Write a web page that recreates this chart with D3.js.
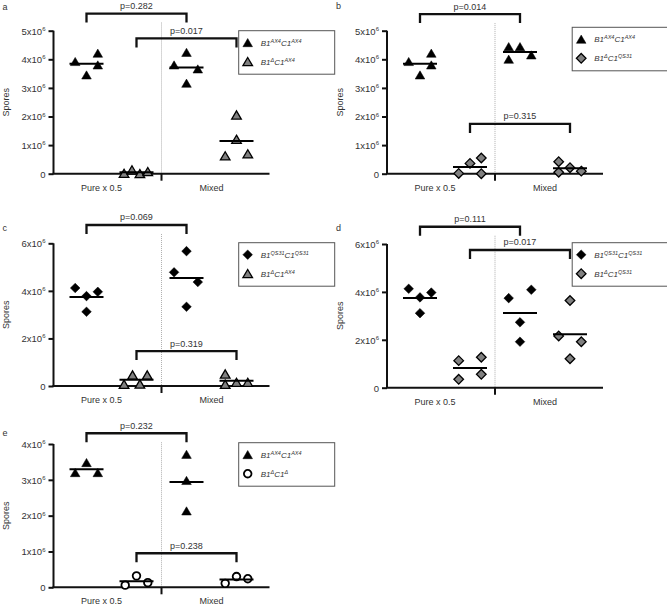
<!DOCTYPE html>
<html>
<head>
<meta charset="utf-8">
<script src="https://cdn.jsdelivr.net/npm/d3@7"></script>
<style>
  body { margin: 0; background: #fff; }
  svg { display: block; font-family: "Liberation Sans", Arial, sans-serif; }
</style>
</head>
<body>
<svg id="chart" width="667" height="607"></svg>
<script>
// groups on the x axis
const categories = ["Pure x 0.5", "Mixed"];

// values are spores in units of 10^6, series order: [dom pure, delta pure, dom mixed, delta mixed]
const aValues = [[3.92, 3.45, 4.21, 3.80], [0.01, 0.13, 0.00, 0.07], [3.80, 4.24, 3.16, 3.66], [0.62, 2.05, 1.20, 0.69]];
const aSlots  = [[-1, 0, 1, 1], [-1.1, -0.4, 0.3, 1], [-1.1, 0, 0, 1], [-1, 0, 0, 1]];
const aLegend = [["B1", "AX4", "C1", "AX4"], ["B1", "Δ", "C1", "AX4"]];
const aPvalues = ["p=0.282", "p=0.017"];
const aBracketAt = [5.6, 4.73];
const aTicks = [0, 1, 2, 3, 4, 5];

const bValues = [[3.92, 3.45, 4.21, 3.80], [0.01, 0.36, 0.00, 0.55], [4.44, 4.00, 4.44, 4.15], [0.42, 0.05, 0.21, 0.09]];
const bSlots  = [[-1, 0, 1, 1], [-1, 0, 1, 1], [-1, -1, 0, 1], [-1, -1, 0, 1]];
const bLegend = [["B1", "AX4", "C1", "AX4"], ["B1", "Δ", "C1", "QS31"]];
const bPvalues = ["p=0.014", "p=0.315"];
const bBracketAt = [5.58, 1.74];
const bTicks = [0, 1, 2, 3, 4, 5];

const cValues = [[4.12, 3.78, 3.12, 3.96], [0.07, 0.46, 0.08, 0.46], [4.78, 5.67, 3.33, 4.37], [0.50, 0.07, 0.15, 0.15]];
const cSlots  = [[-1, 0, 0, 1], [-1.1, -0.35, 0.3, 0.95], [-1.1, 0, 0, 1], [-1, -1, 0, 1]];
const cLegend = [["B1", "QS31", "C1", "QS31"], ["B1", "Δ", "C1", "AX4"]];
const cPvalues = ["p=0.069", "p=0.319"];
const cBracketAt = [6.77, 1.47];
const cTicks = [0, 2, 4, 6];

const dValues = [[4.13, 3.77, 3.11, 3.97], [1.13, 0.35, 1.27, 0.56], [3.74, 2.73, 1.92, 4.09], [2.16, 3.64, 1.21, 1.92]];
const dSlots  = [[-1, 0, 0, 1], [-1, -1, 1, 1], [-1, 0, 0, 1], [-1, 0, 0, 1]];
const dLegend = [["B1", "QS31", "C1", "QS31"], ["B1", "Δ", "C1", "QS31"]];
const dPvalues = ["p=0.111", "p=0.017"];
const dBracketAt = [6.72, 5.75];
const dTicks = [0, 2, 4, 6];

const eValues = [[3.20, 3.48, 3.20], [0.06, 0.32, 0.13], [3.71, 2.98, 2.13], [0.11, 0.30, 0.24]];
const eSlots  = [[-1, 0, 1], [-1, 0, 1], [0, 0, 0], [-1, 0, 1]];
const eLegend = [["B1", "AX4", "C1", "AX4"], ["B1", "Δ", "C1", "Δ"]];
const ePvalues = ["p=0.232", "p=0.238"];
const eBracketAt = [4.30, 0.95];
const eTicks = [0, 1, 2, 3, 4];

const svg = d3.select("#chart");

const panels = [
  { letter: "a", values: aValues, slots: aSlots, legend: aLegend, pvals: aPvalues, bracketAt: aBracketAt, ticks: aTicks,
    marks: ["tri", "triGray"], left: 53.5, y0: 173.7, yTop: 30.7, letterY: 10, legendDy: 0 },
  { letter: "b", values: bValues, slots: bSlots, legend: bLegend, pvals: bPvalues, bracketAt: bBracketAt, ticks: bTicks,
    marks: ["tri", "diaGray"], left: 387, y0: 173.7, yTop: 30.7, letterY: 9, legendDy: -3.4 },
  { letter: "c", values: cValues, slots: cSlots, legend: cLegend, pvals: cPvalues, bracketAt: cBracketAt, ticks: cTicks,
    marks: ["dia", "triGray"], left: 53.5, y0: 386, yTop: 243.3, letterY: 231, legendDy: -0.6 },
  { letter: "d", values: dValues, slots: dSlots, legend: dLegend, pvals: dPvalues, bracketAt: dBracketAt, ticks: dTicks,
    marks: ["dia", "diaGray"], left: 387, y0: 387.7, yTop: 244, letterY: 230.5, legendDy: -1.3 },
  { letter: "e", values: eValues, slots: eSlots, legend: eLegend, pvals: ePvalues, bracketAt: eBracketAt, ticks: eTicks,
    marks: ["tri", "circle"], left: 53.5, y0: 587.3, yTop: 444, letterY: 436, legendDy: -1.3 }
];

// marker drawing
function drawMark(sel, kind) {
  if (kind === "circle") {
    return sel.append("circle").attr("r", 3.8).attr("fill", "#fff").attr("stroke", "#000").attr("stroke-width", 1.8);
  }
  const gray = kind.endsWith("Gray");
  const d = kind.startsWith("tri") ? "M0,-4.2L4.8,4L-4.8,4Z" : "M0,-4.8L4.8,0L0,4.8L-4.8,0Z";
  return sel.append("path").attr("d", d)
    .attr("fill", gray ? "#808080" : "#000")
    .attr("stroke", "#000")
    .attr("stroke-width", gray ? 1.3 : 0.5);
}

function drawPanel(p) {
  const g = svg.append("g");
  const width = 216;
  const x = d3.scalePoint().domain([0, 1, 2, 3]).range([p.left, p.left + width]).padding(0.66);
  const ymax = p.ticks[p.ticks.length - 1];
  const y = d3.scaleLinear().domain([0, ymax]).range([p.y0, p.yTop]);
  const jitter = d3.scaleLinear().domain([-1, 1]).range([-11.3, 11.3]);
  const mid = (x(1) + x(2)) / 2;

  // panel letter
  g.append("text").attr("x", p.left - 51).attr("y", p.letterY)
    .attr("font-size", 9).attr("fill", "#333").text(p.letter);

  // dotted divider
  const topBr = y(p.bracketAt[0]);
  g.append("line").attr("x1", mid).attr("x2", mid).attr("y1", topBr + 9).attr("y2", p.y0)
    .attr("stroke", "#9a9a9a").attr("stroke-width", 0.8).attr("stroke-dasharray", "1,1");

  // y axis
  const yAxis = g.append("g").attr("transform", `translate(${p.left},0)`)
    .call(d3.axisLeft(y).tickValues(p.ticks).tickSize(5).tickFormat(""));
  yAxis.select(".domain").attr("stroke", "#111").attr("stroke-width", 2).attr("d", `M0,${p.y0}V${p.yTop}`);
  yAxis.selectAll(".tick line").attr("stroke", "#111").attr("stroke-width", 2);
  yAxis.selectAll(".tick").each(function(v) {
    const t = d3.select(this).append("text").attr("x", -8).attr("dy", "0.35em")
      .attr("text-anchor", "end").attr("font-size", 9.5).attr("fill", "#333");
    if (v === 0) { t.text("0"); return; }
    t.append("tspan").text(v + "x10");
    t.append("tspan").attr("dy", -3.8).attr("font-size", 6).text("6");
  });

  // x axis line with middle tick
  g.append("line").attr("x1", p.left - 1).attr("x2", p.left + width).attr("y1", p.y0).attr("y2", p.y0)
    .attr("stroke", "#111").attr("stroke-width", 2);
  g.append("line").attr("x1", mid).attr("x2", mid).attr("y1", p.y0).attr("y2", p.y0 + 7)
    .attr("stroke", "#111").attr("stroke-width", 2);
  categories.forEach((c, i) => {
    g.append("text").attr("x", i === 0 ? x(0) + 15 : (x(2) + x(3)) / 2)
      .attr("y", p.y0 + 17).attr("text-anchor", "middle")
      .attr("font-size", 9).attr("fill", "#333").text(c);
  });

  // y title
  g.append("text").attr("transform", `translate(${p.left - 44.5},${(p.y0 + p.yTop) / 2}) rotate(-90)`)
    .attr("text-anchor", "middle").attr("font-size", 9).attr("fill", "#333").text("Spores");

  // points and mean lines
  p.values.forEach((vals, s) => {
    const kind = p.marks[s % 2];
    vals.forEach((v, i) => {
      drawMark(g, kind).attr("transform", `translate(${x(s) + jitter(p.slots[s][i])},${y(v)})`);
    });
    const mean = d3.mean(vals);
    g.append("line").attr("x1", x(s) - 17).attr("x2", x(s) + 17)
      .attr("y1", y(mean)).attr("y2", y(mean))
      .attr("stroke", "#000").attr("stroke-width", 2);
  });

  // brackets
  p.pvals.forEach((pv, k) => {
    const x1 = x(k), x2 = x(k + 2), by = y(p.bracketAt[k]);
    g.append("path").attr("d", `M${x1},${by + 9}V${by}H${x2}V${by + 9}`)
      .attr("fill", "none").attr("stroke", "#111").attr("stroke-width", 2.3);
    g.append("text").attr("x", (x1 + x2) / 2).attr("y", by - 4.5).attr("text-anchor", "middle")
      .attr("font-size", 9).attr("fill", "#333").text(pv);
  });

  // legend
  const lx = p.left + 185.2, ly = p.yTop + p.legendDy;
  const lg = g.append("g").attr("transform", `translate(${lx},${ly})`);
  lg.append("rect").attr("width", 96).attr("height", 43.5)
    .attr("fill", "#fff").attr("stroke", "#555").attr("stroke-width", 1);
  p.legend.forEach((parts, k) => {
    const ry = 12 + k * 19;
    drawMark(lg, p.marks[k]).attr("transform", `translate(9,${ry})`);
    const t = lg.append("text").attr("x", 22).attr("y", ry + 3)
      .attr("font-size", 8).attr("font-style", "italic").attr("fill", "#333");
    parts.forEach((part, j) => {
      const sup = j % 2 === 1;
      t.append("tspan").attr("font-size", sup ? 5.5 : 8)
        .attr("dy", j === 0 ? 0 : (sup ? -3 : 3)).text(part);
    });
  });
}

panels.forEach(drawPanel);
</script>
</body>
</html>
